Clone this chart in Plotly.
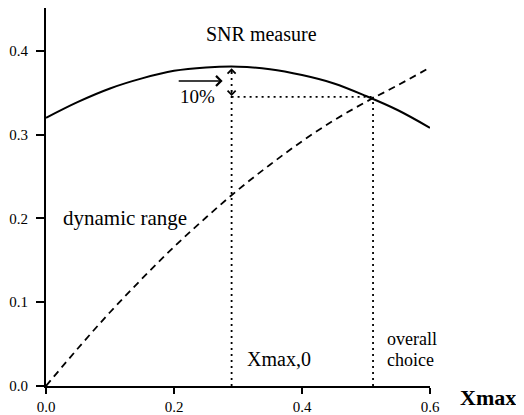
import plotly.graph_objects as go

# Data
x_vals = [0.0, 0.05, 0.1, 0.15, 0.2, 0.25, 0.3, 0.35, 0.4, 0.45, 0.5, 0.55, 0.6]
snr_measure = [0.320, 0.339, 0.355, 0.367, 0.376, 0.380, 0.381, 0.378, 0.371, 0.361, 0.346, 0.329, 0.308]
dynamic_range = [0.0, 0.045, 0.088, 0.128, 0.166, 0.201, 0.234, 0.264, 0.292, 0.317, 0.339, 0.359, 0.380]

xmax0 = 0.29          # SNR-optimal Xmax
xmax0_snr = 0.381     # peak SNR
overall_x = 0.511     # overall choice
overall_y = 0.345     # SNR at overall choice (10% below peak)

x_ticks = [0.0, 0.2, 0.4, 0.6]
x_tick_text = ["0.0", "0.2", "0.4", "0.6"]
y_ticks = [0.0, 0.1, 0.2, 0.3, 0.4]
y_tick_text = ["0.0", "0.1", "0.2", "0.3", "0.4"]

SERIF = "Liberation Serif, Times New Roman, serif"
BLACK = "#000000"

fig = go.Figure()

fig.add_trace(go.Scatter(x=x_vals, y=snr_measure, mode="lines",
                         line=dict(color=BLACK, width=2, shape="spline"),
                         hoverinfo="skip", showlegend=False))
fig.add_trace(go.Scatter(x=x_vals, y=dynamic_range, mode="lines",
                         line=dict(color=BLACK, width=1.8, dash="7px,5px", shape="spline"),
                         hoverinfo="skip", showlegend=False))

# dotted guide lines
dot = dict(color=BLACK, width=1.8, dash="2px,4px")
fig.add_trace(go.Scatter(x=[xmax0, xmax0], y=[0, xmax0_snr - 0.004], mode="lines",
                         line=dot, hoverinfo="skip", showlegend=False))
fig.add_trace(go.Scatter(x=[xmax0, overall_x], y=[overall_y, overall_y], mode="lines",
                         line=dot, hoverinfo="skip", showlegend=False))
fig.add_trace(go.Scatter(x=[overall_x, overall_x], y=[0, overall_y], mode="lines",
                         line=dot, hoverinfo="skip", showlegend=False))

def label(x, y, text, size=19, **kw):
    d = dict(x=x, y=y, text=text, showarrow=False, xanchor="center", yanchor="middle",
             font=dict(family=SERIF, size=size, color=BLACK))
    d.update(kw)
    return d

annotations = [
    label(0.337, 0.420, "SNR measure", 20),
    label(0.124, 0.200, "dynamic range", 21),
    label(0.237, 0.346, "10%", 19),
    label(0.364, 0.032, "Xmax,0", 20),
    label(0.530, 0.056, "overall", 18, xanchor="left"),
    label(0.530, 0.031, "choice", 18, xanchor="left"),
    dict(xref="paper", yref="paper", x=1.151, y=-0.031, text="<b>Xmax</b>",
         xanchor="center", yanchor="middle",
         showarrow=False, font=dict(family=SERIF, size=22, color=BLACK)),
    # right arrow
    dict(x=0.276, y=0.364, ax=0.205, ay=0.364, axref="x", ayref="y",
         text="", showarrow=True, arrowhead=4, arrowsize=1.3, arrowwidth=1.5,
         arrowcolor=BLACK),
    # up arrowhead at peak
    dict(x=xmax0, y=xmax0_snr - 0.002, ax=xmax0, ay=xmax0_snr - 0.010, axref="x", ayref="y",
         text="", showarrow=True, arrowhead=4, arrowsize=1.2, arrowwidth=1.3,
         arrowcolor=BLACK),
    # down arrowhead at 10% level
    dict(x=xmax0, y=overall_y + 0.001, ax=xmax0, ay=overall_y + 0.010, axref="x", ayref="y",
         text="", showarrow=True, arrowhead=4, arrowsize=1.2, arrowwidth=1.3,
         arrowcolor=BLACK),
]

fig.update_layout(
    width=516, height=407,
    margin=dict(l=38, r=94, t=0, b=25),
    paper_bgcolor="white", plot_bgcolor="white",
    annotations=annotations,
    showlegend=False,
    xaxis=dict(range=[0, 0.6], tickvals=x_ticks, ticktext=x_tick_text,
               showgrid=False, zeroline=False, showline=True, linecolor=BLACK,
               linewidth=2, ticks="outside", ticklen=6, tickwidth=1.5, tickcolor=BLACK,
               tickfont=dict(family=SERIF, size=15, color=BLACK)),
    yaxis=dict(range=[0, 0.451], tickvals=y_ticks, ticktext=y_tick_text,
               showgrid=False, zeroline=False, showline=True, linecolor=BLACK,
               linewidth=2, ticks="outside", ticklen=8, tickwidth=1.5, tickcolor=BLACK,
               ticklabelstandoff=5,
               tickfont=dict(family=SERIF, size=15, color=BLACK)),
)

fig.write_html("out.html")
